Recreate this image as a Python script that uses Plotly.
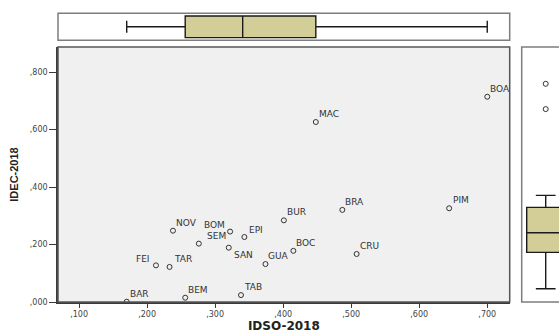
import plotly.graph_objects as go

# ---- data ----
labels = ["BAR", "BEM", "TAB", "FEI", "TAR", "NOV", "SEM", "BOM", "EPI",
          "SAN", "GUA", "BUR", "BOC", "BRA", "CRU", "PIM", "MAC", "BOA"]
idso = [0.170, 0.256, 0.338, 0.213, 0.233, 0.238, 0.276, 0.322, 0.343,
        0.320, 0.374, 0.401, 0.415, 0.487, 0.508, 0.644, 0.448, 0.700]
idec = [0.001, 0.015, 0.024, 0.1275, 0.122, 0.248, 0.203, 0.245, 0.226,
        0.189, 0.132, 0.284, 0.178, 0.3205, 0.167, 0.326, 0.626, 0.714]
x_ticks = [0.1, 0.2, 0.3, 0.4, 0.5, 0.6, 0.7]
y_ticks = [0.0, 0.2, 0.4, 0.6, 0.8]
x_title = "IDSO-2018"
y_title = "IDEC-2018"

# ---- label placement (pixel offsets: anchor, dx, dy) ----
label_pos = {
    "FEI": ("right", -4, 6), "BOM": ("right", -3, 7), "SEM": ("left", 6, 8),
    "EPI": ("left", 3, 7), "SAN": ("left", 3, -7), "TAR": ("left", 2, 8),
    "PIM": ("left", 2, 8),
}
default_pos = ("left", 1, 8)


def fmt(v):
    return "," + f"{int(round(v * 1000)):03d}"


W, H = 559, 334
main_x = [58 / W, 509.7 / W]
main_y = [1 - 302 / H, 1 - 47 / H]
top_y = [1 - 40.3 / H, 1 - 13.3 / H]
right_x = [521.7 / W, 1.0]

BOX_FILL = "#D3CE97"
GRAY = "#7d7d7d"
DARK = "#3a3a3a"

fig = go.Figure()

fig.add_trace(go.Scatter(
    x=idso, y=idec, mode="markers", xaxis="x", yaxis="y",
    marker=dict(symbol="circle-open", size=5, color="#333333",
                line=dict(width=1, color="#333333")),
    hoverinfo="text", text=labels, showlegend=False))

fig.add_trace(go.Box(
    x=idso, y0=0, width=1, orientation="h", xaxis="x2", yaxis="y2",
    fillcolor=BOX_FILL, line=dict(color="#1a1a1a", width=1.4),
    whiskerwidth=0.55, boxpoints="outliers", quartilemethod="exclusive",
    marker=dict(symbol="circle-open", size=5, color="#333333"),
    showlegend=False))

fig.add_trace(go.Box(
    y=idec, x0=0, width=1, xaxis="x3", yaxis="y3",
    fillcolor=BOX_FILL, line=dict(color="#1a1a1a", width=1.4),
    whiskerwidth=0.52, boxpoints="outliers", quartilemethod="exclusive",
    pointpos=0, jitter=0,
    marker=dict(symbol="circle-open", size=5, color="#333333"),
    showlegend=False))

annotations = []
for lab, xv, yv in zip(labels, idso, idec):
    anchor, dx, dy = label_pos.get(lab, default_pos)
    annotations.append(dict(
        x=xv, y=yv, xref="x", yref="y", text=lab, showarrow=False,
        xanchor=anchor, yanchor="middle", xshift=dx, yshift=dy,
        font=dict(family="DejaVu Sans", size=9, color="#333333")))

hidden = dict(showgrid=False, zeroline=False, showticklabels=False,
              ticks="", automargin=False)

xr = [0.069, 0.733]
fig.update_layout(
    width=W, height=H, margin=dict(l=0, r=0, t=0, b=0, autoexpand=False),
    paper_bgcolor="white", plot_bgcolor="white",
    font=dict(family="DejaVu Sans", size=8, color="#444444"),
    xaxis=dict(domain=main_x, range=xr, tickvals=x_ticks, automargin=False,
               ticktext=[fmt(v) for v in x_ticks], ticks="outside",
               ticklen=4, tickcolor=DARK, showline=True, linecolor=DARK,
               linewidth=1.5, showgrid=False, zeroline=False,
               title=dict(text=f"<b>{x_title}</b>", standoff=3,
                          font=dict(family="DejaVu Sans", size=12,
                                    color="#222222"))),
    yaxis=dict(domain=main_y, range=[0, 0.887], tickvals=y_ticks,
               automargin=False,
               ticktext=[fmt(v) for v in y_ticks], ticks="outside",
               ticklen=7, tickcolor=DARK, showline=True, linecolor=DARK,
               linewidth=1.5, showgrid=False, zeroline=False,
               title=dict(text=f"<b>{y_title}</b>", standoff=9,
                          font=dict(family="Liberation Sans", size=11,
                                    color="#222222"))),
    xaxis2=dict(domain=main_x, range=xr, anchor="y2", **hidden),
    yaxis2=dict(domain=top_y, range=[-0.622, 0.622], anchor="x2", **hidden),
    xaxis3=dict(domain=right_x, range=[-0.632, 0.35], anchor="y3", **hidden),
    yaxis3=dict(domain=main_y, range=[-0.045, 0.842], anchor="x3", **hidden),
    annotations=annotations,
    shapes=[
        dict(type="rect", xref="paper", yref="paper", layer="below",
             x0=main_x[0], x1=main_x[1], y0=main_y[0], y1=main_y[1],
             fillcolor="#F0F0F0", line=dict(width=0)),
        dict(type="rect", xref="paper", yref="paper",
             x0=main_x[0], x1=main_x[1], y0=main_y[0], y1=main_y[1],
             line=dict(color="#555555", width=1.5)),
        dict(type="rect", xref="paper", yref="paper",
             x0=main_x[0], x1=main_x[1], y0=top_y[0], y1=top_y[1],
             line=dict(color=GRAY, width=1.5)),
        dict(type="rect", xref="paper", yref="paper",
             x0=right_x[0], x1=1.05, y0=main_y[0], y1=main_y[1],
             line=dict(color=GRAY, width=1.5)),
    ],
)

fig.write_html(
    "out.html",
    config={"displayModeBar": False},
    post_script="document.body.style.margin='0px';"
                "document.body.style.overflow='hidden';")
